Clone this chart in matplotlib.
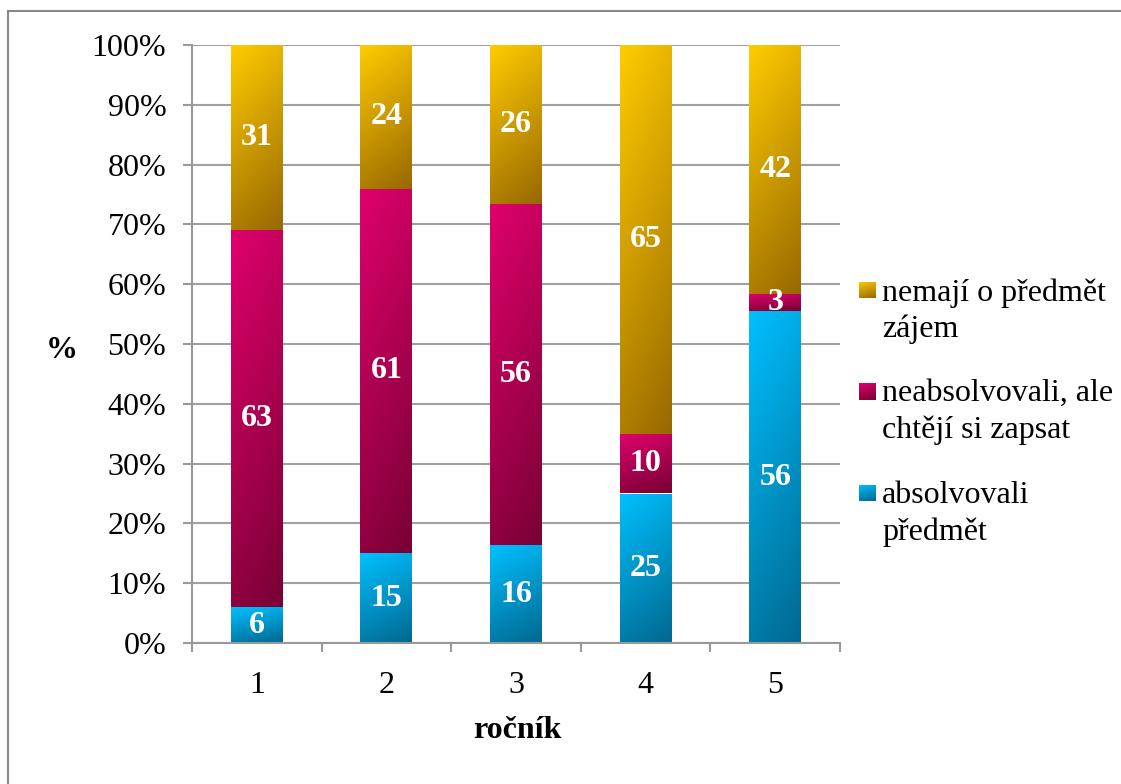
import numpy as np
import matplotlib
matplotlib.use('Agg')
from matplotlib import pyplot as plt
from matplotlib.colors import LinearSegmentedColormap
from matplotlib.lines import Line2D

# data (counts per year)
years = ['1', '2', '3', '4', '5']
absolvovali = [6, 15, 16, 25, 56]
neabsolvovali = [63, 61, 56, 10, 3]
nemaji = [31, 24, 26, 65, 42]
series_names = ['absolvovali\npředmět', 'neabsolvovali, ale\nchtějí si zapsat', 'nemají o předmět\nzájem']

plt.rcParams['font.family'] = ['Liberation Serif', 'DejaVu Serif']

counts = np.array([absolvovali, neabsolvovali, nemaji], dtype=float)
pct = counts / counts.sum(axis=0) * 100

grads = [('#00C0FF', '#006890'), ('#E0006C', '#780034'), ('#FFCC00', '#986800')]

fig = plt.figure(figsize=(11.21, 7.84), dpi=100)
ax = fig.add_axes([192/1121, 1-643/784, 648/1121, 598/784])

# outer chart border (left and top only visible)
fig.add_artist(Line2D([7.5/1121, 7.5/1121], [0, 1-10.5/784], transform=fig.transFigure, color='#888888', lw=1.5))
fig.add_artist(Line2D([7.5/1121, 1], [1-10.5/784, 1-10.5/784], transform=fig.transFigure, color='#888888', lw=1.5))

x = np.arange(1, 6)
u, v = np.meshgrid(np.linspace(0, 1, 50), np.linspace(0, 1, 200))
grad = 0.78 * v + 0.22 * u

bottom = np.zeros(5)
for i in range(3):
    bars = ax.bar(x, pct[i], 0.4, bottom=bottom, color='none', edgecolor='none', zorder=2)
    cmap = LinearSegmentedColormap.from_list('g%d' % i, grads[i])
    for b, c in zip(bars, counts[i]):
        bx, by = b.get_xy()
        w, h = b.get_width(), b.get_height()
        im = ax.imshow(grad, extent=[bx, bx + w, by, by + h], origin='upper', aspect='auto',
                       cmap=cmap, vmin=0, vmax=1, zorder=2, interpolation='bilinear')
        im.set_clip_path(b)
        ax.text(bx + w / 2, by + h / 2, '%d' % c, ha='center', va='center', color='white',
                fontsize=23, fontweight='bold', zorder=3)
    bottom += pct[i]

ax.set_xlim(0.5, 5.5)
ax.set_ylim(0, 100)
ax.set_yticks(np.arange(0, 101, 10))
ax.set_yticklabels(['%d%%' % t for t in range(0, 101, 10)], fontsize=23)
ax.set_xticks(x)
ax.set_xticklabels(years, fontsize=23)
ax.set_xticks(np.arange(0.5, 5.6, 1), minor=True)
ax.tick_params(axis='x', which='major', length=0, pad=20)
ax.tick_params(axis='x', which='minor', length=6.5, width=1.5, color='#999999', direction='out')
ax.tick_params(axis='y', length=6.5, width=1.5, color='#999999', direction='out', pad=12)
ax.yaxis.grid(True, color='#a0a0a0', lw=1.5, zorder=1)
ax.set_axisbelow(True)
for s in ['top', 'right']:
    ax.spines[s].set_visible(False)
for s in ['left', 'bottom']:
    ax.spines[s].set_color('#999999')
    ax.spines[s].set_linewidth(1.5)
    ax.spines[s].set_zorder(4)

fig.text(62/1121, 1-350/784, '%', fontsize=23, fontweight='bold', ha='center', va='center')
fig.text(517/1121, 1-730/784, 'ročník', fontsize=23, fontweight='bold', ha='center', va='center')

# legend, drawn by hand so the marker sits on the first line
leg_y = [493, 391, 290]
for i in range(3):
    yc = 1 - leg_y[i] / 784
    mk = fig.add_axes([859/1121, yc - 8.5/784, 17/1121, 17/784])
    mk.imshow(grad, origin='upper', aspect='auto', cmap=LinearSegmentedColormap.from_list('m%d' % i, grads[i]),
              vmin=0, vmax=1, extent=[0, 1, 0, 1])
    mk.axis('off')
    fig.text(882/1121, yc + 12/784, series_names[i], fontsize=23, ha='left', va='top',
             linespacing=1.33)

plt.savefig('out.png', dpi=100)
